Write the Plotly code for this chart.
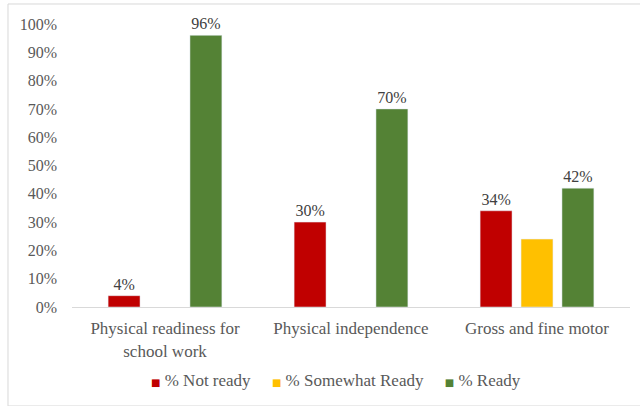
import plotly.graph_objects as go

categories = ["Physical readiness for<br>school work", "Physical independence", "Gross and fine motor"]
not_ready = [0.04, 0.30, 0.34]
somewhat_ready = [None, None, 0.24]
ready = [0.96, 0.70, 0.42]

series_names = ["% Not ready", "% Somewhat Ready", "% Ready"]
series_colors = ["#C00000", "#FFC000", "#548235"]

FONT = "Liberation Serif"
TEXT_COLOR = "#595959"
FS = 16


def pct_labels(values):
    return [f"{round(v * 100)}%" if v is not None else "" for v in values]


fig = go.Figure()
for name, vals, color, labelled in zip(
    series_names, [not_ready, somewhat_ready, ready], series_colors, [True, False, True]
):
    fig.add_trace(go.Bar(
        x=categories, y=vals, name=name,
        marker_color=color, showlegend=False,
        text=pct_labels(vals) if labelled else None,
        textposition="outside",
        textfont=dict(family=FONT, size=FS, color="#404040"),
        cliponaxis=False,
    ))

# Compact legend row: small coloured square followed by the series name
legend_html = "&nbsp;&nbsp;&nbsp;&nbsp;&nbsp;".join(
    f"<span style='color:{c};font-size:10px;font-family:DejaVu Sans'>■</span>&nbsp;{n}"
    for n, c in zip(series_names, series_colors)
)

fig.update_layout(
    width=640, height=406,
    margin=dict(l=72, r=10, t=24, b=99),
    paper_bgcolor="white", plot_bgcolor="white",
    font=dict(family=FONT, size=FS, color=TEXT_COLOR),
    barmode="group", bargap=0.34, bargroupgap=0.22,
    showlegend=False,
    xaxis=dict(
        showline=True, linecolor="#d9d9d9", linewidth=1,
        showgrid=False, ticks="", ticklabelstandoff=6,
        tickfont=dict(family=FONT, size=17, color=TEXT_COLOR),
    ),
    yaxis=dict(
        range=[0, 1], dtick=0.1, tickformat=".0%",
        showgrid=False, zeroline=False, showline=False, ticks="",
        ticklabelstandoff=14,
        tickfont=dict(family=FONT, size=FS, color=TEXT_COLOR),
    ),
    annotations=[dict(
        text=legend_html, xref="paper", yref="paper",
        x=0.473, y=-0.258, xanchor="center", yanchor="middle",
        showarrow=False, font=dict(family=FONT, size=17, color=TEXT_COLOR),
    )],
    shapes=[dict(
        type="rect", xref="paper", yref="paper",
        x0=-0.1147, x1=1.02, y0=-0.3498, y1=1.0707,
        line=dict(color="#d9d9d9", width=1), layer="below",
    )],
)

fig.write_html("out.html")
